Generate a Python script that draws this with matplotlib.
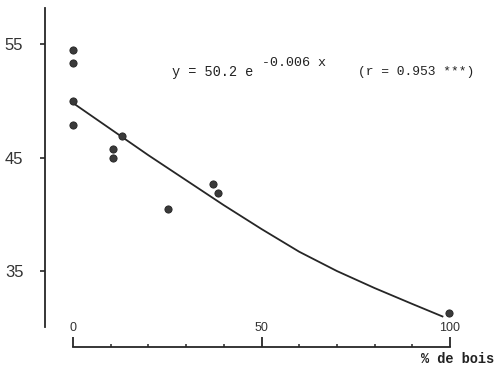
import numpy as np
import matplotlib
matplotlib.use("Agg")
import matplotlib.pyplot as plt

# data
wood_pct = [0, 0, 0, 0, 10.7, 10.5, 12.9, 25.1, 37.2, 38.5, 99.7]
value = [54.5, 53.3, 50.0, 47.9, 45.75, 45.0, 46.9, 40.5, 42.7, 41.9, 31.3]

# hand-drawn fitted curve (y = 50.2 e^-0.006x)
curve_x = [0, 10, 20, 30, 40, 50, 60, 70, 80, 90, 98]
curve_y = [49.8, 47.5, 45.2, 43.0, 40.8, 38.7, 36.7, 35.0, 33.5, 32.1, 31.0]

x_major = [0, 50, 100]
x_minor = [10, 20, 30, 40, 60, 70, 80, 90]
y_ticks = [35, 45, 55]

W, H = 500, 373
ink = "#262626"

fig = plt.figure(figsize=(W / 100, H / 100), dpi=100)
# axes box in pixels: left 45, right 480, top 8, bottom 327
ax = fig.add_axes([45 / W, 1 - 327 / H, 435 / W, 319 / H])

ax.plot(curve_x, curve_y, color=ink, lw=1.3)
ax.plot(wood_pct, value, "o", color="#3a3a3a", markersize=5.2,
        markeredgecolor="#222222", markeredgewidth=0.6)

ax.set_xlim(-7.43, 107.96)
ax.set_ylim(30.07, 58.17)

for s in ["top", "right"]:
    ax.spines[s].set_visible(False)
ax.spines["left"].set_color(ink)
ax.spines["left"].set_linewidth(1.3)
ax.spines["bottom"].set_color(ink)
ax.spines["bottom"].set_linewidth(1.3)
ax.spines["bottom"].set_position(("outward", 14.2))
ax.spines["bottom"].set_bounds(0, 100)

ax.set_xticks(x_major)
ax.set_xticks(x_minor, minor=True)
ax.set_xticklabels([str(v) for v in x_major])
ax.tick_params(axis="x", which="major", direction="in", length=7, width=1.3,
               color=ink, pad=-17.5, labelsize=9, labelcolor="#333333")
ax.tick_params(axis="x", which="minor", direction="in", length=2.5, width=1.1,
               color=ink)

ax.set_yticks(y_ticks)
ax.set_yticklabels([str(v) for v in y_ticks])
ax.tick_params(axis="y", direction="out", length=3.6, width=1.2, color=ink,
               pad=12, labelsize=12, labelcolor="#333333")
for lab in ax.get_xticklabels() + ax.get_yticklabels():
    lab.set_family("Liberation Sans")

mono = "Liberation Mono"
fig.text(172 / W, 1 - 72 / H, "y = 50.2 e", family=mono, fontsize=9.8,
         color="#222222", va="center", ha="left")
fig.text(262 / W, 1 - 63 / H, "-0.006 x", family=mono, fontsize=9.6,
         color="#222222", va="center", ha="left")
fig.text(358 / W, 1 - 72 / H, "(r = 0.953 ***)", family=mono, fontsize=9.4,
         color="#222222", va="center", ha="left")
fig.text(421 / W, 1 - 359 / H, "% de bois", family=mono, fontsize=9.8,
         weight="bold", color="#222222", va="center", ha="left")

fig.savefig("out.png", dpi=100)
